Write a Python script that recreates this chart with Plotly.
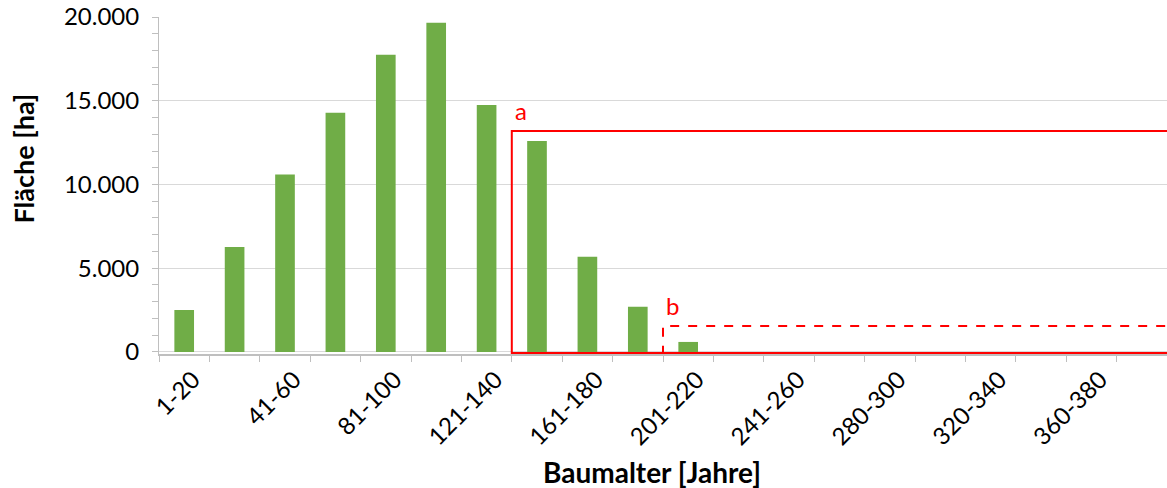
import plotly.graph_objects as go

categories = ["1-20", "21-40", "41-60", "61-80", "81-100", "101-120", "121-140",
              "141-160", "161-180", "181-200", "201-220", "221-240", "241-260",
              "261-280", "280-300", "300-320", "320-340", "340-360", "360-380", "380-400"]
flaeche = [2510, 6270, 10590, 14280, 17740, 19650, 14750, 12600, 5680, 2700, 600,
           0, 0, 0, 0, 0, 0, 0, 0, 0]
shown_labels = [c if i % 2 == 0 else "" for i, c in enumerate(categories)]

# region boxes: start boundary (category index), top value
box_a = dict(x0=6.5, top=13200)
box_b = dict(x0=9.5, top=1550)

FONT = "Lato"
GRAY = "#bfbfbf"
RED = "#ff0000"

fig = go.Figure()
fig.add_trace(go.Bar(x=categories, y=flaeche, marker=dict(color="#70ad47", line=dict(width=0)),
                     width=0.39))

fig.add_shape(type="rect", xref="x", yref="y", x0=box_a["x0"], x1=21, y0=-60, y1=box_a["top"],
              line=dict(color=RED, width=2), layer="above")
fig.add_shape(type="rect", xref="x", yref="y", x0=box_b["x0"], x1=21, y0=-60, y1=box_b["top"],
              line=dict(color=RED, width=2, dash="dash"), layer="above")
fig.add_annotation(x=box_a["x0"], y=box_a["top"], xref="x", yref="y", text="a", showarrow=False,
                   xanchor="left", yanchor="bottom", xshift=1, yshift=4,
                   font=dict(family=FONT, size=24, color=RED))
fig.add_annotation(x=box_b["x0"], y=box_b["top"], xref="x", yref="y", text="b", showarrow=False,
                   xanchor="left", yanchor="bottom", xshift=1, yshift=4,
                   font=dict(family=FONT, size=24, color=RED))

fig.add_annotation(x=0, y=0.5, xref="paper", yref="paper", text="<b>Fläche [ha]</b>",
                   showarrow=False, textangle=-90, xanchor="center", yanchor="middle",
                   xshift=-136, yshift=27,
                   font=dict(family=FONT, size=27, color="#000000"))
fig.add_annotation(x=0.5, y=0, xref="paper", yref="paper", text="<b>Baumalter [Jahre]</b>",
                   showarrow=False, xanchor="center", yanchor="middle", xshift=-11, yshift=-118,
                   font=dict(family=FONT, size=28, color="#000000"))

fig.update_layout(
    width=1167, height=488,
    margin=dict(l=159, r=0, t=17, b=134),
    paper_bgcolor="white", plot_bgcolor="white",
    separators=",.",
    showlegend=False,
    font=dict(family=FONT, size=23, color="#000000"),
    xaxis=dict(type="category", tickmode="array", tickvals=categories, ticktext=shown_labels,
               tickson="boundaries", ticks="outside", ticklen=6, tickcolor=GRAY, tickwidth=1,
               tickangle=-45, showline=True, linecolor=GRAY, linewidth=2, showgrid=False,
               range=[-0.5, 19.5], ticklabelshift=9,
               tickfont=dict(family=FONT, size=24, color="#000000")),
    yaxis=dict(range=[-120, 20000], tickmode="array", tickvals=[0, 5000, 10000, 15000, 20000],
               tickformat=",", ticks="outside", ticklen=6,
               tickcolor=GRAY, showline=True, linecolor=GRAY, linewidth=1,
               showgrid=True, gridcolor="#d9d9d9", gridwidth=1, zeroline=False,
               minor=dict(ticks="outside", tickmode="array",
                          tickvals=[1000 * k for k in range(0, 21)],
                          ticklen=6, tickcolor=GRAY, showgrid=False),
               ticklabelstandoff=8, tickfont=dict(family=FONT, size=24, color="#000000")),
)

fig.write_html("out.html", config={"displayModeBar": False},
               post_script="document.body.style.margin='0';document.body.style.padding='0';")
